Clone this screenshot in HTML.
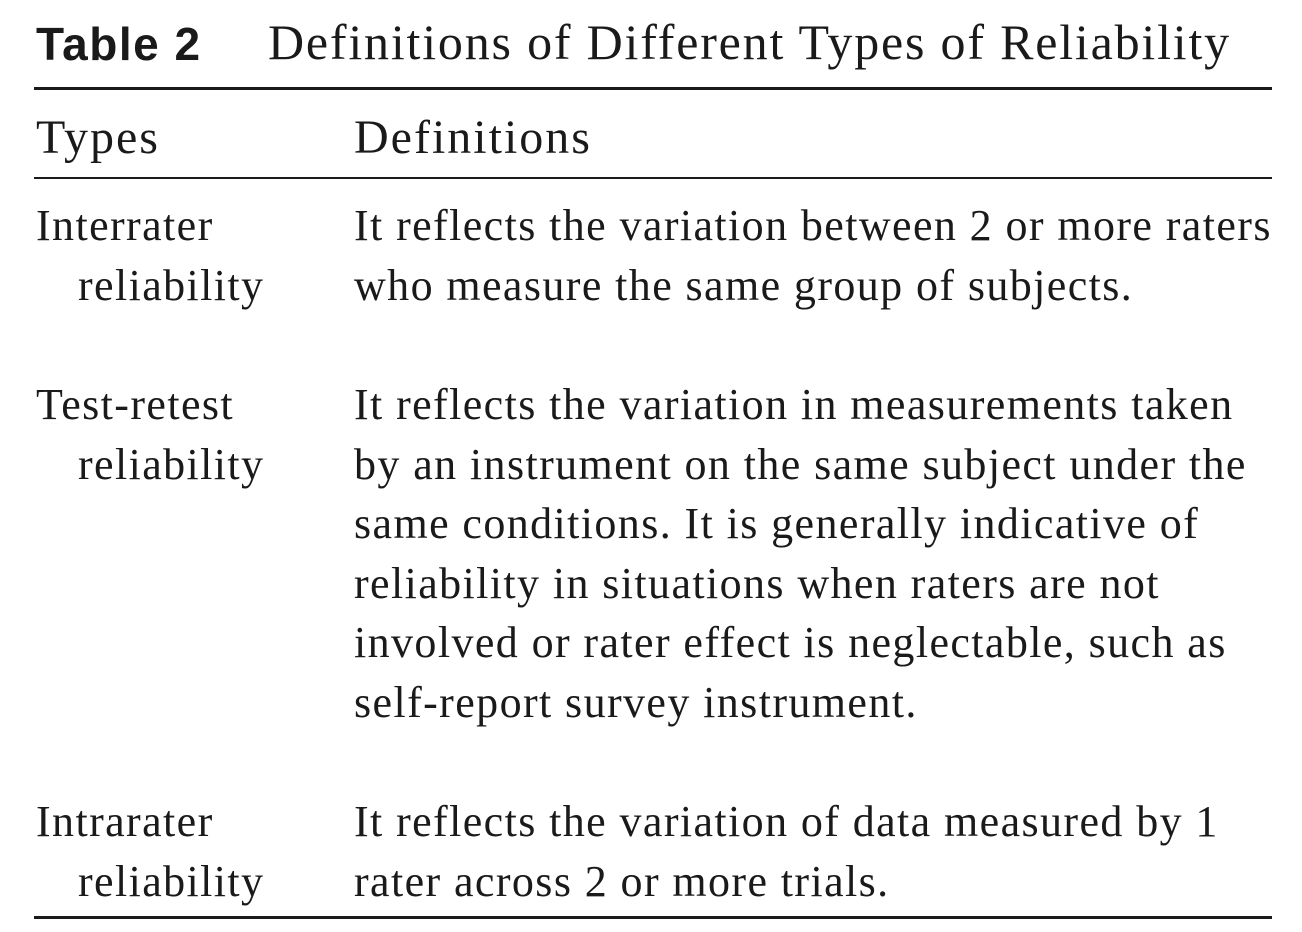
<!DOCTYPE html>
<html><head><meta charset="utf-8"><style>
body{margin:0;width:1302px;height:932px;background:#fff;position:relative;overflow:hidden;color:#1a1a1a}
.t{position:absolute;font-family:"Liberation Serif",serif;font-size:44px;line-height:60px;white-space:nowrap;letter-spacing:1.4px}
.r{position:absolute;left:34px;width:1238px;background:#1a1a1a}
</style></head><body>
<div>
<div class="t" style="left:36px;top:14px;font-family:'Liberation Sans',sans-serif;font-weight:bold;font-size:46px;letter-spacing:1.5px">Table 2</div>
<div class="t" style="left:268px;top:12px;font-size:50px;letter-spacing:1.8px">Definitions of Different Types of Reliability</div>
</div>
<div class="r" style="top:87px;height:3px"></div>
<div class="t" style="left:36px;top:108px;font-size:48px;letter-spacing:2px">Types</div>
<div class="t" style="left:354px;top:108px;font-size:48px;letter-spacing:2px">Definitions</div>
<div class="r" style="top:177px;height:2px"></div>

<div>
<div class="t" style="left:36px;top:196px">Interrater</div>
<div class="t" style="left:78px;top:256px">reliability</div>
<div class="t" style="left:354px;top:196px">It reflects the variation between 2 or more raters</div>
<div class="t" style="left:354px;top:256px">who measure the same group of subjects.</div>
</div>

<div>
<div class="t" style="left:36px;top:375px">Test-retest</div>
<div class="t" style="left:78px;top:435px">reliability</div>
<div class="t" style="left:354px;top:375px">It reflects the variation in measurements taken</div>
<div class="t" style="left:354px;top:435px">by an instrument on the same subject under the</div>
<div class="t" style="left:354px;top:494px">same conditions. It is generally indicative of</div>
<div class="t" style="left:354px;top:554px">reliability in situations when raters are not</div>
<div class="t" style="left:354px;top:613px">involved or rater effect is neglectable, such as</div>
<div class="t" style="left:354px;top:673px">self-report survey instrument.</div>
</div>

<div>
<div class="t" style="left:36px;top:792px">Intrarater</div>
<div class="t" style="left:78px;top:852px">reliability</div>
<div class="t" style="left:354px;top:792px">It reflects the variation of data measured by 1</div>
<div class="t" style="left:354px;top:852px">rater across 2 or more trials.</div>
</div>
<div class="r" style="top:916px;height:3px"></div>
</body></html>
